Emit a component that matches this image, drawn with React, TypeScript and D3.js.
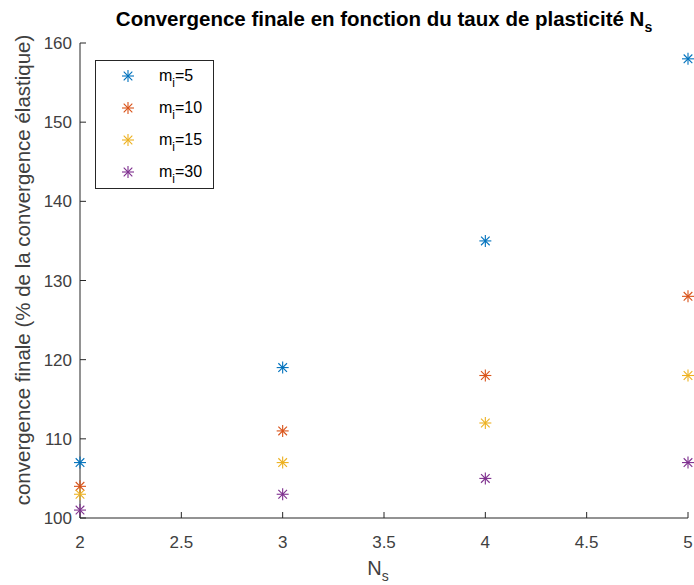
import React from "react";
import * as d3 from "d3";

const nsValues = [2, 3, 4, 5];
const seriesLabels = ["5", "10", "15", "30"];
const seriesColors = ["#0072BD", "#D95319", "#EDB120", "#7E2F8E"];
const mi5 = [107, 119, 135, 158];
const mi10 = [104, 111, 118, 128];
const mi15 = [103, 107, 112, 118];
const mi30 = [101, 103, 105, 107];
const seriesValues = [mi5, mi10, mi15, mi30];
const xTicks = [2, 2.5, 3, 3.5, 4, 4.5, 5];
const yTicks = [100, 110, 120, 130, 140, 150, 160];

const W = 694, H = 585;
const margin = { left: 80, right: 6, top: 43, bottom: 67 };
const FONT = "'Liberation Sans', Arial, Helvetica, sans-serif";

function Star({ x, y, color, r = 6 }: { x: number; y: number; color: string; r?: number }) {
  const d = r * 0.72;
  return (
    <g stroke={color} strokeWidth={1.1}>
      <line x1={x - r} y1={y} x2={x + r} y2={y} />
      <line x1={x} y1={y - r} x2={x} y2={y + r} />
      <line x1={x - d} y1={y - d} x2={x + d} y2={y + d} />
      <line x1={x - d} y1={y + d} x2={x + d} y2={y - d} />
    </g>
  );
}

export default function App() {
  const x = d3.scaleLinear().domain([2, 5]).range([margin.left, W - margin.right]);
  const y = d3.scaleLinear().domain([100, 160]).range([H - margin.bottom, margin.top]);
  const x0 = margin.left, y0 = H - margin.bottom;
  const axisColor = "#262626";
  const tickText = "#404040";
  return (
    <svg width={W} height={H} style={{ position: "absolute", left: 0, top: 0, background: "#fff" }} fontFamily={FONT}>
      <rect width={W} height={H} fill="#fff" />
      {/* title */}
      <text x={384} y={26} textAnchor="middle" fontSize={20.5} fontWeight="bold" fill="#000">
        Convergence finale en fonction du taux de plasticité N
        <tspan dy={6} fontSize={14}>s</tspan>
      </text>
      {/* axes */}
      <line x1={x0} y1={y0} x2={W - margin.right} y2={y0} stroke={axisColor} strokeWidth={1} />
      <line x1={x0} y1={y0} x2={x0} y2={margin.top} stroke={axisColor} strokeWidth={1} />
      {xTicks.map((t) => (
        <g key={"x" + t}>
          <line x1={x(t)} x2={x(t)} y1={y0} y2={y0 - 6} stroke={axisColor} />
          <text x={x(t)} y={y0 + 30} textAnchor="middle" fontSize={17} fill={tickText}>{t}</text>
        </g>
      ))}
      {yTicks.map((t) => (
        <g key={"y" + t}>
          <line x1={x0} x2={x0 + 6} y1={y(t)} y2={y(t)} stroke={axisColor} />
          <text x={x0 - 8} y={y(t) + 6} textAnchor="end" fontSize={17} fill={tickText}>{t}</text>
        </g>
      ))}
      {/* axis labels */}
      <text x={378} y={575} textAnchor="middle" fontSize={20} fill={tickText}>
        N<tspan dy={6} fontSize={14}>s</tspan>
      </text>
      <text transform={`translate(30, 270) rotate(-90)`} textAnchor="middle" fontSize={20.5} fill={tickText}>
        convergence finale (% de la convergence élastique)
      </text>
      {/* data */}
      {seriesValues.map((vals, si) =>
        vals.map((v, i) => <Star key={si + "-" + i} x={x(nsValues[i])} y={y(v)} color={seriesColors[si]} />)
      )}
      {/* legend */}
      <rect x={95.5} y={60.5} width={118} height={128} fill="#fff" stroke="#262626" strokeWidth={1} />
      {seriesLabels.map((lab, i) => (
        <g key={"l" + i}>
          <Star x={128} y={76 + i * 32} color={seriesColors[i]} />
          <text x={159} y={81 + i * 32} fontSize={16} fill="#000">
            m<tspan dy={6} fontSize={12}>i</tspan><tspan dy={-6}>={lab}</tspan>
          </text>
        </g>
      ))}
    </svg>
  );
}
